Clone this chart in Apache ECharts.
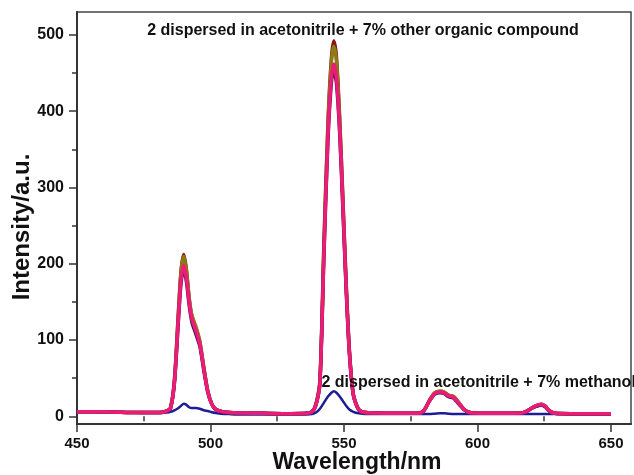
<!DOCTYPE html>
<html><head><meta charset="utf-8">
<script src="https://cdn.jsdelivr.net/npm/echarts@6/dist/echarts.min.js"></script>
<style>html,body{margin:0;padding:0;background:#fff}#c{width:634px;height:475px}</style>
</head><body><div id="c"></div>
<script>
const wavelengths = [450,455,460,465,470,475,480,482,483.5,485,486.5,488,489,490,491,492,493,494.5,496,497.5,499,500.5,502,504,507,512,520,530,536,538,539.5,541,542.5,544,545.3,546.2,547.2,548.4,549.6,550.8,552,553.5,555.5,558,562,570,578,580,582,584,586,587.5,589,591,593,595,597,600,610,616,618,620,622,624,625.5,627,629,635,645,650];
const organicPink     = [6,6,6,5.5,5,5,5,5.5,7,10,45,130,180,198,180,150,128,113,95,62,32,16,9,6.5,5,4.5,4,3.5,4,6,15,45,215,368,445,462,442,375,275,170,85,28,9,5,4.5,4,4,8,20,30,32,31,27,25,17,9,5,4,4,4.5,6,10,14,16,13,7,4,3.5,3.5,3.5];
const organicDarkRed  = [6,6,6,5.5,5,5,5,5.5,7,11,48,138,192,212,192,155,132,116,97,64,33,16,9,6.5,5,4.5,4,3.5,4,6,16,48,228,385,470,492,470,390,285,176,88,29,9,5,4.5,4,4,8,21,31,33,32,28,26,18,9,5,4,4,4.5,6,10,14,16,13,7,4,3.5,3.5,3.5];
const organicOlive    = [6,6,6,5.5,5,5,5,5.5,7,11,47,136,190,210,190,155,133,118,99,64,33,16,9,6.5,5,4.5,4,3.5,4,6,16,47,225,380,465,485,465,386,282,175,87,29,9,5,4.5,4,4,8,21,31,33,32,28,26,18,9,5,4,4,4.5,6,10,14,16,13,7,4,3.5,3.5,3.5];
const organicPurple   = [6,6,6,5.5,5,5,5,5.5,7,10,44,126,176,194,176,146,124,108,92,60,31,16,9,6.5,5,4.5,4,3.5,4,6,15,44,212,362,438,455,436,370,270,167,84,28,9,5,4.5,4,4,8,20,29,31,30,26,24,16,9,5,4,4,4.5,6,10,13,15,12,7,4,3.5,3.5,3.5];
const methanolBlue    = [6,6,5.5,5,5,4.5,4.5,4.5,5,6,8,11,14,16.5,15,12,11,11,10,8,7,5.5,4.5,3.5,3,2.5,2.5,2.5,2.5,3,5,10,18,26,31,33,31,26,20,14,9,6,4,3,3,3,3,3,3,3.5,4,4,3.5,3,3,3,3,3,3,3,3,3,3,3,3,3,3,2.5,2.5,2.5];
const xMajorTicks = [450,500,550,600,650];
const xMinorTicks = [475,525,575,625];
const yMajorTicks = [0,100,200,300,400,500];
const yMinorTicks = [50,150,250,350,450];
const xTitle = 'Wavelength/nm';
const yTitle = 'Intensity/a.u.';
const labelTop = '2 dispersed in acetonitrile + 7% other organic compound';
const labelBottom = '2 dispersed in acetonitrile + 7% methanol';

const pairs = arr => wavelengths.map((w,i)=>[w,arr[i]]);
const FONT = '"Liberation Sans", Arial, sans-serif';
const chart = echarts.init(document.getElementById('c'));
const mkSeries = (name, arr, color, width) => ({
  name, type:'line', data: pairs(arr), showSymbol:false, smooth:0.25,
  lineStyle:{color, width}, itemStyle:{color}, xAxisIndex:0, yAxisIndex:0, z:2
});
chart.setOption({
  animation:false,
  backgroundColor:'#fff',
  grid:{left:77,right:3,top:12,bottom:51,show:true,borderColor:'#444',borderWidth:1.5},
  xAxis:[{
    type:'value',min:450,max:657.5,position:'bottom',
    axisLine:{show:true,onZero:false,lineStyle:{color:'#333',width:2}},
    axisTick:{show:true,inside:false,length:8,customValues:xMajorTicks,lineStyle:{color:'#333',width:1.5}},
    axisLabel:{customValues:xMajorTicks,margin:12,fontFamily:FONT,fontWeight:'bold',fontSize:15,color:'#111'},
    splitLine:{show:false}
  },{
    type:'value',min:450,max:657.5,position:'bottom',
    axisLine:{show:false},
    axisTick:{show:true,inside:false,length:5,customValues:xMinorTicks,lineStyle:{color:'#333',width:1.5}},
    axisLabel:{show:false},splitLine:{show:false}
  }],
  yAxis:[{
    type:'value',min:-10,max:530,position:'left',
    axisLine:{show:true,onZero:false,lineStyle:{color:'#333',width:2}},
    axisTick:{show:true,inside:false,length:8,customValues:yMajorTicks,lineStyle:{color:'#333',width:1.5}},
    axisLabel:{customValues:yMajorTicks,margin:13,fontFamily:FONT,fontWeight:'bold',fontSize:16,color:'#111'},
    splitLine:{show:false}
  },{
    type:'value',min:-10,max:530,position:'left',
    axisLine:{show:false},
    axisTick:{show:true,inside:false,length:5,customValues:yMinorTicks,lineStyle:{color:'#333',width:1.5}},
    axisLabel:{show:false},splitLine:{show:false}
  }],
  series:[
    mkSeries('methanol', methanolBlue, '#1c1c96', 2.5),
    mkSeries('darkred', organicDarkRed, '#8a1414', 3.5),
    mkSeries('olive', organicOlive, '#8c7a14', 3.5),
    mkSeries('purple', organicPurple, '#4a1a5a', 3.5),
    mkSeries('pink', organicPink, '#ee1a78', 3.5)
  ],
  graphic:[
    {type:'text',x:22,y:227,rotation:Math.PI/2,
      style:{text:yTitle,font:'bold 24px '+FONT,fill:'#111',align:'center',verticalAlign:'middle'}},
    {type:'text',x:357,y:463,
      style:{text:xTitle,font:'bold 23px '+FONT,fill:'#111',align:'center',verticalAlign:'middle'}},
    {type:'text',x:363,y:31,
      style:{text:labelTop,font:'bold 16px '+FONT,fill:'#111',align:'center',verticalAlign:'middle'}},
    {type:'text',x:321.5,y:383,z:10,
      style:{text:labelBottom,font:'bold 16px '+FONT,fill:'#111',align:'left',verticalAlign:'middle'}}
  ]
});
</script></body></html>
